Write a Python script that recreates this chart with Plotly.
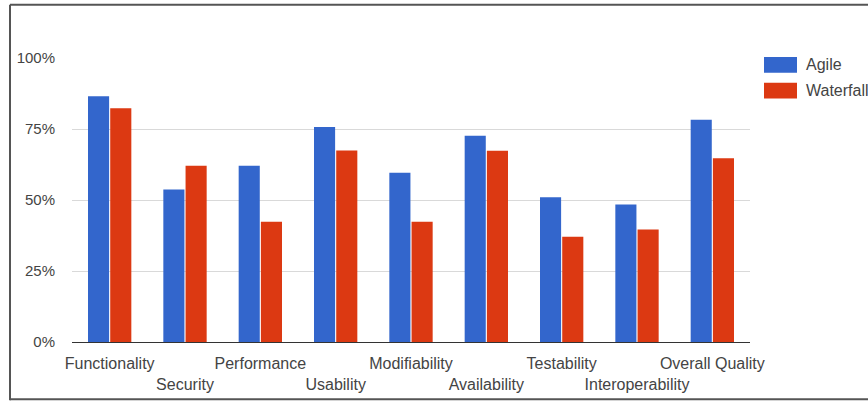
import plotly.graph_objects as go

categories = ["Functionality", "Security", "Performance", "Usability", "Modifiability",
              "Availability", "Testability", "Interoperability", "Overall Quality"]
series_names = ["Agile", "Waterfall"]
agile = [0.865, 0.537, 0.621, 0.757, 0.596, 0.726, 0.510, 0.484, 0.783]
waterfall = [0.823, 0.621, 0.423, 0.674, 0.423, 0.673, 0.371, 0.396, 0.647]
y_ticks = [0, 0.25, 0.5, 0.75, 1.0]
y_tick_labels = ["0%", "25%", "50%", "75%", "100%"]
colors = ["#3366cc", "#dc3912"]

W, H = 868, 405
L, R, T, B = 72, 750, 58, 346  # plot area pixel box

def px(x):
    return (x - L) / (R - L)

def py(y):
    return (B - y) / (B - T)

fig = go.Figure()
for name, vals, col in zip(series_names, [agile, waterfall], colors):
    fig.add_trace(go.Bar(x=list(range(len(categories))), y=vals, name=name,
                         marker=dict(color=col, line=dict(width=0)),
                         showlegend=False, hoverinfo="x+y"))

ticktext = [c if i % 2 == 0 else "<br>" + c for i, c in enumerate(categories)]

font_family = "Liberation Sans, Arial, sans-serif"
text_color = "#444444"

fig.update_layout(
    width=W, height=H,
    margin=dict(l=L, r=W - R, t=T, b=H - B, pad=0),
    paper_bgcolor="white", plot_bgcolor="white",
    barmode="group", bargap=0.41, bargroupgap=0.05,
    font=dict(family=font_family, color=text_color, size=16),
    xaxis=dict(range=[-0.5, len(categories) - 0.5], tickmode="array",
               tickvals=list(range(len(categories))), ticktext=ticktext,
               showgrid=False, zeroline=False, showline=False, ticks="",
               ticklabelstandoff=10,
               tickfont=dict(size=16, color=text_color), tickangle=0),
    yaxis=dict(range=[0, 1.0], tickmode="array", tickvals=y_ticks, ticktext=y_tick_labels,
               showgrid=True, gridcolor="#d9d9d9", gridwidth=1,
               zeroline=True, zerolinecolor="#333333", zerolinewidth=1,
               showline=False, ticks="", ticklabelstandoff=16,
               tickfont=dict(size=15, color=text_color)),
)

shapes = []
# outer border (left, top, bottom)
border = dict(color="#555555", width=2)
shapes.append(dict(type="line", xref="paper", yref="paper", x0=px(10), x1=px(10),
                   y0=py(4), y1=py(405), line=border))
shapes.append(dict(type="line", xref="paper", yref="paper", x0=px(10), x1=px(W + 2),
                   y0=py(4), y1=py(4), line=border))
shapes.append(dict(type="line", xref="paper", yref="paper", x0=px(10), x1=px(W + 2),
                   y0=py(404), y1=py(404), line=border))

# legend
annotations = []
for i, (name, col) in enumerate(zip(series_names, colors)):
    top = 57 + i * 26
    shapes.append(dict(type="rect", xref="paper", yref="paper",
                       x0=px(764), x1=px(797), y0=py(top), y1=py(top + 16),
                       fillcolor=col, line=dict(width=0)))
    annotations.append(dict(xref="paper", yref="paper", x=px(804), y=py(top + 8),
                            text=name, showarrow=False, xanchor="left", yanchor="middle",
                            font=dict(size=16, color=text_color, family=font_family)))

fig.update_layout(shapes=shapes, annotations=annotations)
fig.write_html("out.html", config={"displayModeBar": False},
               post_script="document.body.style.margin='0';document.body.style.overflow='hidden';")
